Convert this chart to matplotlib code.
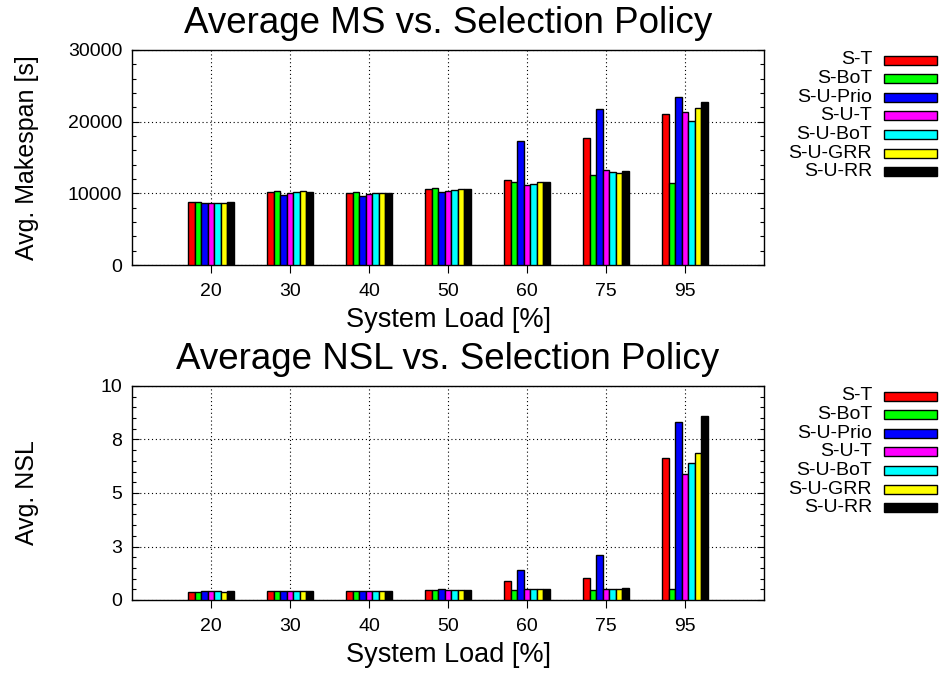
import numpy as np
import matplotlib.pyplot as plt
from matplotlib.patches import Rectangle
from matplotlib.ticker import MultipleLocator, FuncFormatter

plt.rcParams['font.family'] = ['Liberation Sans', 'DejaVu Sans']

loads = ["20", "30", "40", "50", "60", "75", "95"]
policies = ["S-T", "S-BoT", "S-U-Prio", "S-U-T", "S-U-BoT", "S-U-GRR", "S-U-RR"]
colors = ["#ff0000", "#00ff00", "#0000ff", "#ff00ff", "#00ffff", "#ffff00", "#000000"]

# average makespan [s], one row per policy, one column per load
ms_st = [8750, 10190, 10050, 10560, 11800, 17690, 21070]
ms_sbot = [8750, 10280, 10190, 10700, 11620, 12590, 11480]
ms_suprio = [8610, 9815, 9680, 10140, 17270, 21810, 23380]
ms_sut = [8700, 10050, 9860, 10280, 11200, 13240, 21390]
ms_subot = [8700, 10190, 10000, 10460, 11340, 12960, 20090]
ms_sugrr = [8700, 10280, 10050, 10600, 11530, 12870, 21950]
ms_surr = [8750, 10190, 10050, 10560, 11530, 13060, 22730]

# average NSL
nsl_st = [0.39, 0.44, 0.44, 0.45, 0.89, 1.03, 6.65]
nsl_sbot = [0.39, 0.44, 0.44, 0.47, 0.48, 0.48, 0.51]
nsl_suprio = [0.40, 0.44, 0.44, 0.50, 1.39, 2.09, 8.30]
nsl_sut = [0.40, 0.44, 0.44, 0.47, 0.51, 0.53, 5.90]
nsl_subot = [0.40, 0.44, 0.44, 0.48, 0.53, 0.53, 6.39]
nsl_sugrr = [0.39, 0.44, 0.44, 0.47, 0.51, 0.51, 6.87]
nsl_surr = [0.40, 0.44, 0.44, 0.47, 0.51, 0.55, 8.60]

ms = [ms_st, ms_sbot, ms_suprio, ms_sut, ms_subot, ms_sugrr, ms_surr]
nsl = [nsl_st, nsl_sbot, nsl_suprio, nsl_sut, nsl_subot, nsl_sugrr, nsl_surr]

W, H = 940, 675
fig = plt.figure(figsize=(W / 100, H / 100), dpi=100)

# axes boxes in pixels: left, top, right, bottom
boxes = [(132, 50, 764, 265), (132, 386, 764, 600)]
titles = ["Average MS vs. Selection Policy", "Average NSL vs. Selection Policy"]
ylabels = ["Avg. Makespan [s]", "Avg. NSL"]

x = np.arange(len(loads))
bw = 1.0 / 12
n = len(policies)


def nsl_fmt(v, pos):
    return "%d" % np.floor(v + 0.5)


for k, (data, box) in enumerate(zip([ms, nsl], boxes)):
    l, t, r, b = box
    ax = fig.add_axes([l / W, 1 - b / H, (r - l) / W, (b - t) / H])
    for i, (vals, c) in enumerate(zip(data, colors)):
        ax.bar(x + (i - (n - 1) / 2) * bw, vals, bw, color=c,
               edgecolor="black", linewidth=1.0, zorder=3)
    ax.set_xlim(-1, 7)
    ax.set_xticks(x)
    ax.set_xticklabels(loads)
    if k == 0:
        ax.set_ylim(0, 30000)
        ax.yaxis.set_major_locator(MultipleLocator(10000))
        ax.yaxis.set_minor_locator(MultipleLocator(2000))
    else:
        ax.set_ylim(0, 10)
        ax.yaxis.set_major_locator(MultipleLocator(2.5))
        ax.yaxis.set_minor_locator(MultipleLocator(0.5))
        ax.yaxis.set_major_formatter(FuncFormatter(nsl_fmt))
    ax.grid(True, which="major", linestyle=(0, (1, 2.5)), color="black",
            linewidth=0.8, zorder=0)
    ax.tick_params(axis="y", which="both", direction="in", left=True, right=True,
                   labelsize=14, pad=7)
    ax.tick_params(axis="y", which="major", length=5, width=0.8)
    ax.tick_params(axis="y", which="minor", length=3, width=0.8)
    ax.tick_params(axis="x", direction="out", length=6, width=0.8, top=False,
                   labelsize=14, pad=7)
    for s in ax.spines.values():
        s.set_linewidth(1.0)
    ax.set_title(titles[k], fontsize=26.5, pad=12)
    ax.set_xlabel("System Load [%]", fontsize=19.5, labelpad=5)
    ax.set_ylabel(ylabels[k], fontsize=18)
    ax.yaxis.set_label_coords((39 - l) / (r - l), 0.5)

    # key on the right
    for i, (name, c) in enumerate(zip(policies, colors)):
        yc = t + 10 + i * 18.6
        fig.text(872 / W, 1 - yc / H, name, ha="right", va="center", fontsize=14)
        fig.patches.append(Rectangle((884 / W, 1 - (yc + 4.5) / H), 53 / W, 9 / H,
                                     facecolor=c, edgecolor="black", linewidth=1.0,
                                     transform=fig.transFigure, figure=fig))

fig.savefig("out.png", dpi=100)
